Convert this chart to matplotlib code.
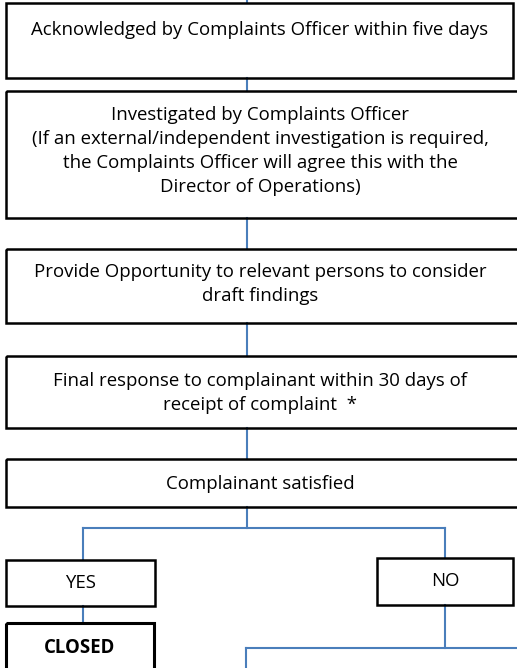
import matplotlib.pyplot as plt
from matplotlib.patches import Rectangle

# box texts, one list of lines per box
steps = [
    ["Acknowledged by Complaints Officer within five days"],
    ["Investigated by Complaints Officer",
     "(If an external/independent investigation is required,",
     "the Complaints Officer will agree this with the",
     "Director of Operations)"],
    ["Provide Opportunity to relevant persons to consider",
     "draft findings"],
    ["Final response to complainant within 30 days of",
     "receipt of complaint  *"],
    ["Complainant satisfied"],
]
answers = ["YES", "NO"]
closed_label = "CLOSED"

# layout in pixels (x0, y0, x1, y1), first text line centre
step_boxes = [(6, 3, 513, 78), (6, 91, 530, 218), (6, 249, 530, 323),
              (6, 356, 530, 428), (6, 459, 530, 507)]
step_text_y = [30, 115, 272, 381, 484]
answer_boxes = [(6, 560, 155, 606), (377, 558, 513, 605)]
closed_box = (6, 623, 154, 700)
line_gap = 24
mid_x = 247

W, H = 517, 668
fig = plt.figure(figsize=(W / 100, H / 100), dpi=100)
ax = fig.add_axes([0, 0, 1, 1])
ax.set_xlim(0, W)
ax.set_ylim(H, 0)
ax.axis("off")

plt.rcParams["font.family"] = ["Open Sans", "DejaVu Sans"]
font_size = 13.4
blue = "#4a7ebb"


def box(b, lw=1.8):
    x0, y0, x1, y1 = b
    ax.add_patch(Rectangle((x0, y0), x1 - x0, y1 - y0, fill=False,
                           edgecolor="black", linewidth=lw, zorder=2))


def line(xs, ys):
    ax.plot(xs, ys, color=blue, linewidth=1.5, zorder=1)


# connectors
line([mid_x, mid_x], [0, 3])
for i in range(len(step_boxes) - 1):
    line([mid_x, mid_x], [step_boxes[i][3], step_boxes[i + 1][1]])
line([mid_x, mid_x], [507, 528])
line([83, 445], [528, 528])
line([83, 83], [528, 560])
line([445, 445], [528, 558])
line([83, 83], [606, 623])
line([445, 445], [605, 648])
line([246, 530], [648, 648])
line([246, 246], [648, 700])

for b, lines, ty in zip(step_boxes, steps, step_text_y):
    box(b)
    cx = (b[0] + b[2]) / 2 if b[2] < W else 260
    for k, t in enumerate(lines):
        ax.text(cx, ty + k * line_gap, t, ha="center", va="center",
                fontsize=font_size, zorder=3)

for b, t in zip(answer_boxes, answers):
    box(b)
    ax.text((b[0] + b[2]) / 2, (b[1] + b[3]) / 2, t, ha="center",
            va="center", fontsize=font_size, zorder=3)

box(closed_box, lw=2.2)
ax.text((closed_box[0] + closed_box[2]) / 2, 648, closed_label, ha="center",
        va="center", fontsize=font_size, fontweight="bold", zorder=3)

plt.savefig("out.png", dpi=100)
